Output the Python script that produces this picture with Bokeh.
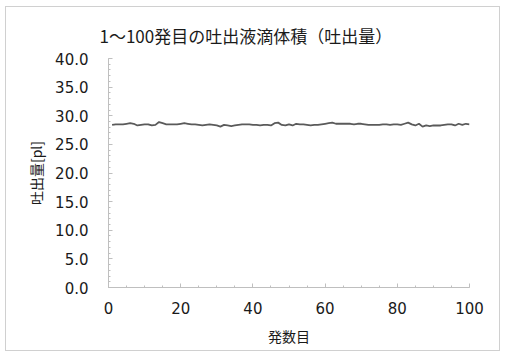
from bokeh.plotting import figure
from bokeh.models import FixedTicker, Range1d, NumeralTickFormatter
from bokeh.embed import file_html
from bokeh.resources import INLINE

title_text = "1～100発目の吐出液滴体積（吐出量）"
x_label = "発数目"
y_label = "吐出量[pl]"

shots = list(range(1, 101))
volume = [
    28.4, 28.5, 28.5, 28.5, 28.6, 28.7, 28.6, 28.3, 28.4, 28.5,
    28.5, 28.3, 28.4, 28.9, 28.7, 28.5, 28.5, 28.5, 28.5, 28.6,
    28.7, 28.6, 28.5, 28.5, 28.4, 28.3, 28.4, 28.5, 28.4, 28.3,
    28.1, 28.4, 28.3, 28.2, 28.3, 28.4, 28.5, 28.5, 28.5, 28.4,
    28.4, 28.3, 28.4, 28.4, 28.3, 28.7, 28.8, 28.4, 28.3, 28.5,
    28.3, 28.6, 28.5, 28.5, 28.4, 28.3, 28.4, 28.4, 28.5, 28.6,
    28.7, 28.8, 28.6, 28.6, 28.6, 28.6, 28.6, 28.5, 28.6, 28.6,
    28.5, 28.4, 28.4, 28.4, 28.4, 28.5, 28.5, 28.4, 28.5, 28.5,
    28.4, 28.6, 28.8, 28.5, 28.3, 28.6, 28.1, 28.3, 28.2, 28.3,
    28.3, 28.3, 28.4, 28.5, 28.5, 28.3, 28.6, 28.4, 28.6, 28.5,
]
x_ticks = [0, 20, 40, 60, 80, 100]
y_ticks = [0, 5, 10, 15, 20, 25, 30, 35, 40]

jp = "Noto Sans CJK JP"
num = "DejaVu Sans"
axis_col = "#bfbfbf"
text_col = "#1a1a1a"

p = figure(width=495, height=345, output_backend="svg", toolbar_location=None,
           x_range=Range1d(0, 100), y_range=Range1d(0, 40),
           min_border_left=102, min_border_right=32, min_border_top=51, min_border_bottom=65,
           title=title_text)
p.margin = (6, 0, 0, 5)
p.styles = {"border": "1px solid #d0d0d0", "box-sizing": "border-box"}
p.outline_line_color = None
p.xgrid.grid_line_color = None
p.ygrid.grid_line_color = None

p.title.align = "left"
p.title.offset = -9
p.title.standoff = 18
p.title.vertical_align = "top"
p.title.text_font = jp
p.title.text_font_size = "17px"
p.title.text_font_style = "normal"
p.title.text_color = text_col

p.line(shots, volume, line_color="#5a5a5a", line_width=1.8)

for ax in (p.xaxis[0], p.yaxis[0]):
    ax.axis_line_color = axis_col
    ax.major_tick_line_color = axis_col
    ax.minor_tick_line_color = axis_col
    ax.major_tick_in = 4
    ax.major_tick_out = 0
    ax.minor_tick_in = 2
    ax.minor_tick_out = 0
    ax.major_label_text_font = num
    ax.major_label_text_font_size = "15px"
    ax.major_label_text_color = text_col
    ax.axis_label_text_font = jp
    ax.axis_label_text_font_size = "14px"
    ax.axis_label_text_font_style = "normal"
    ax.axis_label_text_color = text_col

p.xaxis[0].ticker = FixedTicker(ticks=x_ticks, minor_ticks=list(range(0, 101, 5)))
p.yaxis[0].ticker = FixedTicker(ticks=y_ticks, minor_ticks=list(range(0, 41, 1)))
p.yaxis[0].formatter = NumeralTickFormatter(format="0.0")
p.xaxis[0].axis_label = x_label
p.yaxis[0].axis_label = y_label
p.xaxis[0].major_label_standoff = 14
p.yaxis[0].major_label_standoff = 20
p.xaxis[0].axis_label_standoff = 9
p.yaxis[0].axis_label_standoff = 6

open("out.html", "w").write(file_html(p, INLINE))
